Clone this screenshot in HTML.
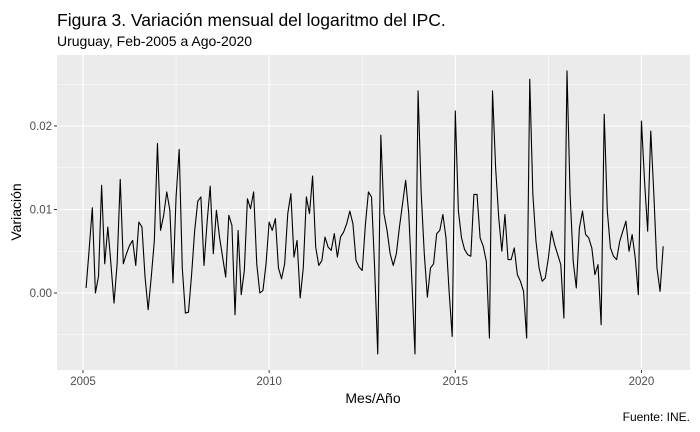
<!DOCTYPE html>
<html><head><meta charset="utf-8"><style>
body{margin:0;background:#fff;}
svg{display:block;font-family:"Liberation Sans",Arial,sans-serif;}
</style></head><body>
<svg id="chart" width="700" height="432">
<text x="57" y="26" font-size="17.5" fill="#000">Figura 3. Variación mensual del logaritmo del IPC.</text>
<text x="57" y="46" font-size="14" fill="#000">Uruguay, Feb-2005 a Ago-2020</text>
<rect x="57" y="55" width="633" height="315" fill="#ebebeb"/>
<g id="grid"></g>
<g id="ticks"></g>
<path id="line" fill="none" stroke="#000" stroke-width="1.1" stroke-linejoin="round"/>
<text x="373" y="403" font-size="14" text-anchor="middle" fill="#000">Mes/Año</text>
<text x="0" y="0" font-size="14" text-anchor="middle" fill="#000" transform="translate(21,212) rotate(-90)">Variación</text>
<text x="690" y="421" font-size="12" text-anchor="end" fill="#000">Fuente: INE.</text>
</svg>
<script>
const startYear = 2005;
const startMonth = 2;
const values = [
0.0006,0.0053,0.0102,0.0,0.002,0.0129,0.0035,0.0079,0.0035,-0.0012,0.0035,
0.0136,0.0035,0.0047,0.0057,0.0063,0.0033,0.0085,0.0079,0.0019,-0.002,0.0019,0.0063,
0.0179,0.0075,0.0093,0.0121,0.0099,0.0012,0.0115,0.0172,0.003,-0.0024,-0.0023,0.0022,
0.0075,0.011,0.0115,0.0033,0.0085,0.0128,0.0047,0.0099,0.0067,0.0043,0.0019,0.0093,
0.0081,-0.0026,0.0075,-0.0002,0.0027,0.0113,0.0101,0.0121,0.0035,0.0,0.0003,0.0035,
0.0085,0.0075,0.0089,0.003,0.0017,0.0035,0.0095,0.0119,0.0043,0.0063,-0.0006,0.003,
0.0115,0.0095,0.014,0.0055,0.0033,0.0039,0.0067,0.0055,0.0051,0.0071,0.0043,0.0067,
0.0073,0.0083,0.0098,0.0083,0.0039,0.0031,0.0027,0.0081,0.0121,0.0115,0.003,-0.0073,
0.0189,0.0095,0.0075,0.0047,0.0033,0.0047,0.0079,0.0107,0.0135,0.0095,0.0015,-0.0073,
0.0242,0.012,0.0047,-0.0005,0.003,0.0035,0.0071,0.0075,0.0094,0.0066,0.0002,-0.0052,
0.0218,0.0098,0.0066,0.0052,0.0046,0.0044,0.0118,0.0118,0.0066,0.0056,0.0038,-0.0054,
0.0242,0.015,0.009,0.005,0.0094,0.004,0.004,0.0054,0.0022,0.0014,0.0002,-0.0054,
0.0256,0.0118,0.0062,0.003,0.0014,0.0018,0.0042,0.0074,0.0058,0.0046,0.0034,-0.003,
0.0266,0.0118,0.0038,0.0006,0.0078,0.0098,0.007,0.0066,0.0054,0.0022,0.0034,-0.0038,
0.0214,0.0098,0.0054,0.0044,0.004,0.0062,0.0074,0.0086,0.005,0.007,0.0042,-0.0002,
0.0206,0.0134,0.0074,0.0194,0.0118,0.003,0.0002,0.0056
];
const xTicks = [2005, 2010, 2015, 2020];
const xMinor = [2007.5, 2012.5, 2017.5];
const yTicks = [0, 0.01, 0.02];
const yTickLabels = ["0.00", "0.01", "0.02"];
const yMinor = [-0.005, 0.005, 0.015, 0.025];

const NS = "http://www.w3.org/2000/svg";
const PX0 = 57, PX1 = 690, PY0 = 55, PY1 = 370;
function xScale(t){ return 83 + (t - 2005) * 37.23; }
function yScale(v){ return 293 - v * 8350; }

const grid = document.getElementById('grid');
const ticks = document.getElementById('ticks');
function mk(tag, attrs, parent){
  const e = document.createElementNS(NS, tag);
  for (const k in attrs) e.setAttribute(k, attrs[k]);
  parent.appendChild(e);
  return e;
}
yMinor.forEach(v => {
  const l = mk('line', {x1:PX0, x2:PX1, y1:yScale(v), y2:yScale(v), stroke:'#fff', 'stroke-width':0.55}, grid);
  
  
});
xMinor.forEach(t => {
  const l = mk('line', {x1:xScale(t), x2:xScale(t), y1:PY0, y2:PY1, stroke:'#fff', 'stroke-width':0.55}, grid);
  
  
});
yTicks.forEach((v, i) => {
  const y = yScale(v);
  const l = mk('line', {x1:PX0, x2:PX1, y1:y, y2:y, stroke:'#fff', 'stroke-width':1.1}, grid);
  
  
  const tk = mk('line', {x1:PX0-3, x2:PX0, y1:y, y2:y, stroke:'#333', 'stroke-width':1}, ticks);
  
  
  const tx = mk('text', {x:PX0-5, y:y+4, 'font-size':11.5, fill:'#4d4d4d', 'text-anchor':'end'}, ticks);
  tx.textContent = yTickLabels[i];
  
  
});
xTicks.forEach(t => {
  const x = xScale(t);
  const l = mk('line', {x1:x, x2:x, y1:PY0, y2:PY1, stroke:'#fff', 'stroke-width':1.1}, grid);
  
  
  const tk = mk('line', {x1:x, x2:x, y1:PY1, y2:PY1+3, stroke:'#333', 'stroke-width':1}, ticks);
  
  
  const tx = mk('text', {x:x, y:PY1+15, 'font-size':11.5, fill:'#4d4d4d', 'text-anchor':'middle'}, ticks);
  tx.textContent = String(t);
  
  
});
let d = '';
values.forEach((v, i) => {
  const t = startYear + (startMonth - 1 + i) / 12;
  d += (i ? 'L' : 'M') + xScale(t).toFixed(2) + ',' + yScale(v).toFixed(2);
});
document.getElementById('line').setAttribute('d', d);
</script>
</body></html>
